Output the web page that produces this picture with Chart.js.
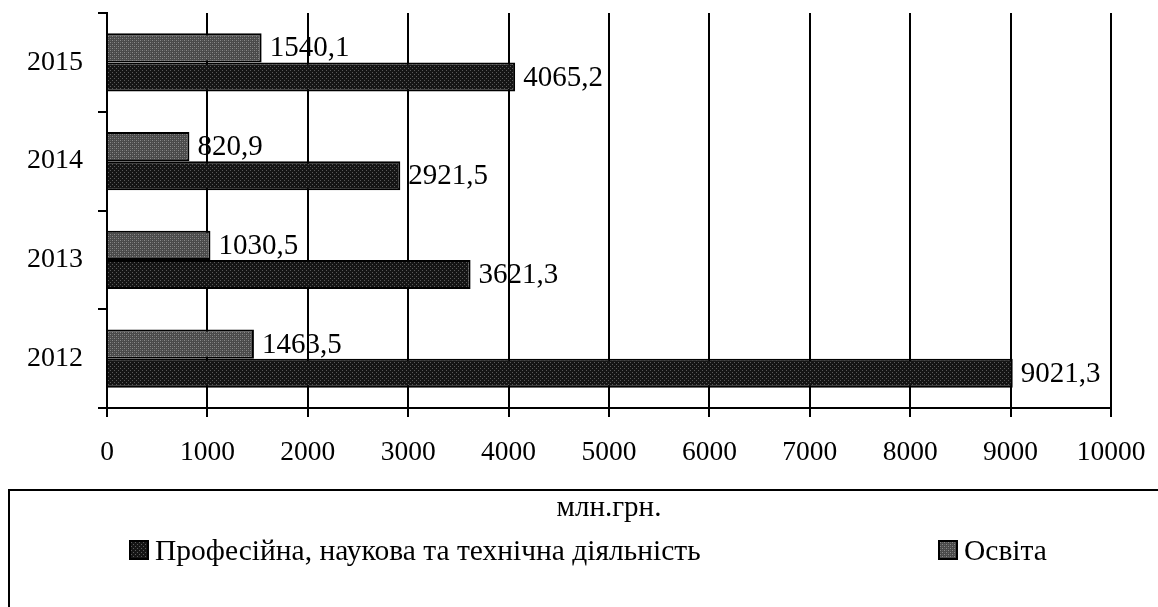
<!DOCTYPE html>
<html>
<head>
<meta charset="utf-8">
<script src="https://cdn.jsdelivr.net/npm/chart.js@4/dist/chart.umd.min.js"></script>
<style>
  html, body { margin: 0; padding: 0; background: #fff; }
  #wrap { position: relative; width: 1158px; height: 607px; overflow: hidden; }
  #legendBox {
    position: absolute; left: 8px; top: 489px; width: 1170px; height: 140px;
    border: 2px solid #000; box-sizing: border-box;
    font-family: 'Liberation Serif', serif; font-size: 29.5px; color: #000;
  }
  .item { position: absolute; top: 42px; height: 34px; line-height: 34px; white-space: nowrap; }
  .item canvas { position: absolute; left: 0; top: 7px; }
  .item span { position: absolute; left: 26px; top: 0; }
</style>
</head>
<body>
<div id="wrap">
  <canvas id="chart" width="1158" height="607"></canvas>
  <div id="legendBox">
    <div class="item" style="left:119px"><canvas id="sw1" width="20" height="20"></canvas><span>Професійна, наукова та технічна діяльність</span></div>
    <div class="item" style="left:928px"><canvas id="sw2" width="20" height="20"></canvas><span>Освіта</span></div>
  </div>
</div>
<script>
var years = ['2015', '2014', '2013', '2012'];
var osvita = [1540.1, 820.9, 1030.5, 1463.5];
var profesiina = [4065.2, 2921.5, 3621.3, 9021.3];
var xTicks = [0, 1000, 2000, 3000, 4000, 5000, 6000, 7000, 8000, 9000, 10000];
var axisTitle = 'млн.грн.';

function make_pattern(bg, dot, dot2) {
  var c = document.createElement('canvas');
  c.width = 4; c.height = 4;
  var g = c.getContext('2d');
  g.fillStyle = bg;
  g.fillRect(0, 0, 4, 4);
  g.fillStyle = dot;
  g.fillRect(0, 0, 1, 1);
  g.fillRect(2, 2, 1, 1);
  if (dot2) {
    g.fillStyle = dot2;
    g.fillRect(2, 0, 1, 1);
    g.fillRect(0, 2, 1, 1);
  }
  return g.createPattern(c, 'repeat');
}

var profFill = make_pattern('#151515', '#5a5a5a');
var osvitaFill = make_pattern('#4a4a4a', '#8a8a8a', '#666666');

function fill_swatch(id, pat) {
  var g = document.getElementById(id).getContext('2d');
  g.fillStyle = pat;
  g.fillRect(0, 0, 20, 20);
  g.strokeStyle = '#000';
  g.lineWidth = 2;
  g.strokeRect(1, 1, 18, 18);
}
fill_swatch('sw1', profFill);
fill_swatch('sw2', osvitaFill);

var valueLabels = {
  id: 'valueLabels',
  afterDatasetsDraw: function(chart) {
    var ctx = chart.ctx;
    ctx.save();
    ctx.font = '29px "Liberation Serif"';
    ctx.fillStyle = '#000';
    ctx.textAlign = 'left';
    ctx.textBaseline = 'middle';
    chart.data.datasets.forEach(function(ds, i) {
      chart.getDatasetMeta(i).data.forEach(function(el, j) {
        var txt = ds.data[j].toFixed(1).replace('.', ',');
        ctx.fillText(txt, el.x + 8, el.y + 1);
      });
    });
    ctx.restore();
  }
};

var ctx1 = document.getElementById('chart').getContext('2d');
new Chart(ctx1, {
  type: 'bar',
  data: {
    labels: years,
    datasets: [
      {
        label: 'Освіта',
        data: osvita,
        backgroundColor: osvitaFill,
        borderColor: '#000',
        borderWidth: 2,
        barPercentage: 1,
        categoryPercentage: 0.59
      },
      {
        label: 'Професійна, наукова та технічна діяльність',
        data: profesiina,
        backgroundColor: profFill,
        borderColor: '#000',
        borderWidth: 2,
        barPercentage: 1,
        categoryPercentage: 0.59
      }
    ]
  },
  options: {
    indexAxis: 'y',
    responsive: false,
    animation: false,
    devicePixelRatio: 1,
    layout: { padding: { left: 0, right: 47, top: 13, bottom: 81 } },
    scales: {
      x: {
        min: 0,
        max: 10000,
        afterBuildTicks: function(scale) {
          scale.ticks = xTicks.map(function(v) { return { value: v }; });
        },
        afterFit: function(scale) {
          scale.height = 118;
          scale.paddingLeft = 0;
          scale.paddingRight = 0;
        },
        grid: { color: '#000', lineWidth: 2, tickLength: 9, drawTicks: true },
        border: { color: '#000', width: 2 },
        ticks: {
          color: '#000',
          padding: 19,
          maxRotation: 0,
          font: { family: 'Liberation Serif', size: 27.5 },
          callback: function(v) { return String(v); }
        },
        title: {
          display: true,
          text: axisTitle,
          color: '#000',
          padding: { top: 0, bottom: 0 },
          font: { family: 'Liberation Serif', size: 29 }
        }
      },
      y: {
        afterFit: function(scale) {
          scale.width = 107;
          scale.paddingTop = 0;
          scale.paddingBottom = 0;
        },
        grid: { drawOnChartArea: false, color: '#000', lineWidth: 2, tickLength: 9, offset: true },
        border: { color: '#000', width: 2 },
        ticks: {
          color: '#000',
          padding: 15,
          font: { family: 'Liberation Serif', size: 28 }
        }
      }
    },
    plugins: {
      legend: { display: false },
      tooltip: { enabled: false }
    }
  },
  plugins: [valueLabels]
});
</script>
</body>
</html>
